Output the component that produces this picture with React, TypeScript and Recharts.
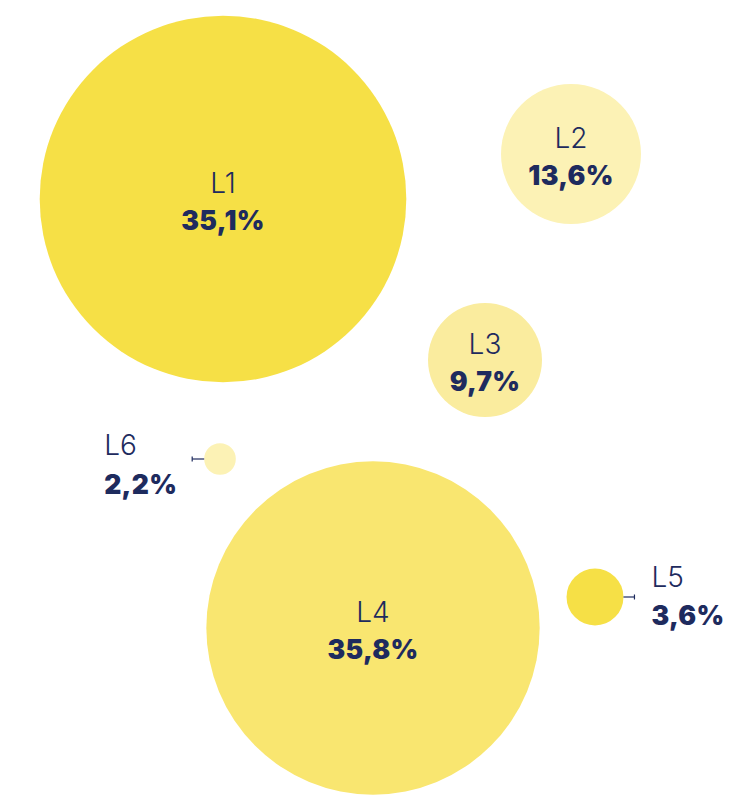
import React from 'react';
import { ScatterChart, Scatter, XAxis, YAxis, ZAxis } from 'recharts';

// Categories and values
const names = ['L1', 'L2', 'L3', 'L4', 'L5', 'L6'];
const shares = [35.1, 13.6, 9.7, 35.8, 3.6, 2.2];
// Bubble placement (chart units) and relative bubble size
const posX = [223, 571, 485, 373, 595, 220];
const posY = [199, 154, 360, 628, 597, 459];
const bubbleSize = [33600, 4900, 3249, 27778, 810, 250];
const labelSide = ['inside', 'inside', 'inside', 'inside', 'right', 'left'];
const fills = ['#F6E046', '#FCF2B5', '#FAEC9E', '#F9E670', '#F6E046', '#FCF2B5'];

const data = names.map((n, i) => ({
  name: n,
  share: shares[i],
  x: posX[i],
  y: posY[i],
  z: bubbleSize[i],
  side: labelSide[i],
  fill: fills[i],
}));

const W = 741;
const H = 802;
const NAVY = '#1E2B5E';
const FONT = 'Inter, "Open Sans", sans-serif';

const fmt = (v: number) => v.toFixed(1).replace('.', ',') + '%';

const Bubble = (props: any) => {
  const { cx, cy, width, payload } = props;
  const r = width / 2;
  const side = payload.side;
  let tx = cx;
  let anchor: 'middle' | 'start' = 'middle';
  let nameY = cy - 6;
  let valY = cy + 31;
  let tick: React.ReactNode = null;
  if (side === 'right') {
    tx = cx + r + 28;
    anchor = 'start';
    nameY = cy - 10;
    valY = cy + 28;
    const x1 = cx + r;
    const x2 = cx + r + 11;
    tick = (
      <g stroke={NAVY} strokeWidth={1.2}>
        <line x1={x1} y1={cy} x2={x2} y2={cy} />
        <line x1={x2} y1={cy - 2.5} x2={x2} y2={cy + 2.5} />
      </g>
    );
  } else if (side === 'left') {
    tx = cx - r - 100;
    anchor = 'start';
    nameY = cy - 4;
    valY = cy + 35;
    const x1 = cx - r;
    const x2 = cx - r - 12;
    tick = (
      <g stroke={NAVY} strokeWidth={1.2}>
        <line x1={x1} y1={cy} x2={x2} y2={cy} />
        <line x1={x2} y1={cy - 2.5} x2={x2} y2={cy + 2.5} />
      </g>
    );
  }
  return (
    <g>
      <circle cx={cx} cy={cy} r={r} fill={payload.fill} />
      {tick}
      <text x={tx} y={nameY} textAnchor={anchor} fill={NAVY} fontFamily={FONT} fontWeight={300} fontSize={28}>
        {payload.name}
      </text>
      <text x={tx} y={valY} textAnchor={anchor} fill={NAVY} fontFamily={FONT} fontWeight={900} fontSize={26.5} letterSpacing={0.3}>
        {fmt(payload.share)}
      </text>
    </g>
  );
};

export default function App() {
  return (
    <div style={{ position: 'absolute', left: 0, top: 0, width: W, height: H, background: '#fff' }}>
      <ScatterChart width={W} height={H} margin={{ top: 0, right: 0, bottom: 0, left: 0 }}>
        <XAxis type="number" dataKey="x" domain={[0, W]} hide />
        <YAxis type="number" dataKey="y" domain={[0, H]} reversed hide />
        <ZAxis type="number" dataKey="z" domain={[0, 33600]} range={[0, Math.PI * 33600]} />
        <Scatter data={data} shape={Bubble} isAnimationActive={false} />
      </ScatterChart>
    </div>
  );
}
